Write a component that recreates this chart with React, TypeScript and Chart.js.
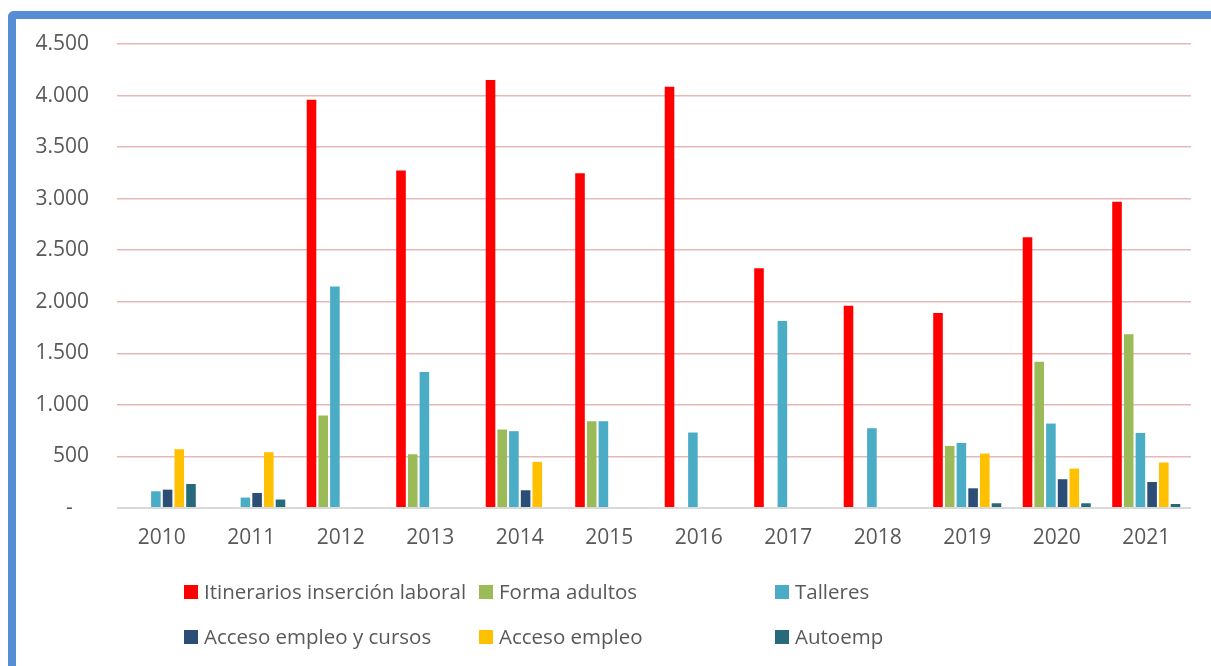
import React, { useEffect, useRef } from "react";
import { Chart, registerables } from "chart.js";

Chart.register(...registerables);

const categories = ["2010", "2011", "2012", "2013", "2014", "2015", "2016", "2017", "2018", "2019", "2020", "2021"];
const itinerarios = [null, null, 3960, 3272, 4150, 3246, 4086, 2325, 1961, 1890, 2625, 2970];
const formaAdultos = [null, null, 897, 521, 761, 842, null, null, null, 602, 1418, 1685];
const talleres = [162, 101, 2148, 1320, 745, 842, 732, 1813, 774, 631, 819, 728];
const accesoCursos = [178, 146, null, null, 172, null, null, null, null, 191, 279, 252];
const accesoEmpleo = [570, 541, null, null, 447, null, null, null, null, 528, 382, 441];
const autoemp = [233, 82, null, null, 10, null, null, null, null, 46, 46, 39];

const seriesNames = [
  "Itinerarios inserción laboral",
  "Forma adultos",
  "Talleres",
  "Acceso empleo y cursos",
  "Acceso empleo",
  "Autoemp",
];
const seriesColors = ["#FF0000", "#9BBB59", "#4BACC6", "#2C4D75", "#FFC000", "#276A7C"];
const seriesValues = [itinerarios, formaAdultos, talleres, accesoCursos, accesoEmpleo, autoemp];

const yMax = 4500;
const yStep = 500;

const FONT = "'Open Sans', Lato, sans-serif";
const TEXT = "#595959";

function fmt(v: number): string {
  if (v === 0) return "-   ";
  return String(v).replace(/\B(?=(\d{3})+(?!\d))/g, ".");
}

export default function App() {
  const ref = useRef<HTMLCanvasElement | null>(null);

  useEffect(() => {
    let chart: Chart | null = null;
    let cancelled = false;
    const make = () => {
      if (cancelled || !ref.current) return;
      chart = new Chart(ref.current, {
        type: "bar",
        data: {
          labels: categories,
          datasets: seriesValues.map((vals, i) => ({
            label: seriesNames[i],
            data: vals as (number | null)[],
            backgroundColor: seriesColors[i],
            borderWidth: 0,
            categoryPercentage: 0.784,
            barPercentage: 0.82,
          })),
        },
        options: {
          animation: false,
          responsive: false,
          devicePixelRatio: 1,
          layout: { padding: { left: 0, right: 20, top: 44, bottom: 98 } },
          plugins: {
            legend: { display: false },
            tooltip: { enabled: false },
          },
          scales: {
            x: {
              grid: { display: false, drawTicks: false },
              border: { display: false },
              ticks: { color: TEXT, font: { family: FONT, size: 21 }, padding: 17 },
              afterFit: (s: any) => {
                s.height = 60;
              },
            },
            y: {
              min: 0,
              max: yMax,
              grid: {
                drawTicks: false,
                color: (c: any) => (c.tick && c.tick.value === 0 ? "#D9D9D9" : "#E6B9B8"),
                lineWidth: (c: any) => (c.tick && c.tick.value === 0 ? 2 : 1.5),
              },
              border: { display: false },
              ticks: {
                stepSize: yStep,
                color: TEXT,
                font: { family: FONT, size: 21 },
                padding: 28,
                callback: (v: any) => fmt(Number(v)),
              },
              afterFit: (s: any) => {
                s.width = 117;
              },
            },
          },
        },
      });
    };
    if ((document as any).fonts && (document as any).fonts.load) {
      Promise.all([(document as any).fonts.load("21px 'Open Sans'")]).then(make, make);
    } else {
      make();
    }
    return () => {
      cancelled = true;
      if (chart) chart.destroy();
    };
  }, []);

  const cols = [184, 479, 775];
  const rows = [585, 630];

  return (
    <div
      style={{
        position: "fixed",
        left: 0,
        top: 0,
        width: 1211,
        height: 666,
        overflow: "hidden",
        background: "#fff",
      }}
    >
      <div
        style={{
          position: "absolute",
          left: 8,
          top: 11,
          width: 1400,
          height: 900,
          borderTop: "8px solid #558ED5",
          borderLeft: "8px solid #558ED5",
          borderTopLeftRadius: 6,
          boxSizing: "border-box",
        }}
      />
      <canvas
        ref={ref}
        width={1211}
        height={666}
        style={{ position: "absolute", left: 0, top: 0, width: 1211, height: 666 }}
      />
      {seriesNames.map((name, i) => {
        const c = cols[i % 3];
        const r = rows[Math.floor(i / 3)];
        return (
          <div key={name}>
            <div
              style={{
                position: "absolute",
                left: c,
                top: r,
                width: 14,
                height: 14,
                background: seriesColors[i],
              }}
            />
            <div
              style={{
                position: "absolute",
                left: c + 20,
                top: r - 7,
                height: 26,
                lineHeight: "26px",
                fontFamily: FONT,
                fontSize: 20.5,
                color: TEXT,
                whiteSpace: "nowrap",
              }}
            >
              {name}
            </div>
          </div>
        );
      })}
    </div>
  );
}
